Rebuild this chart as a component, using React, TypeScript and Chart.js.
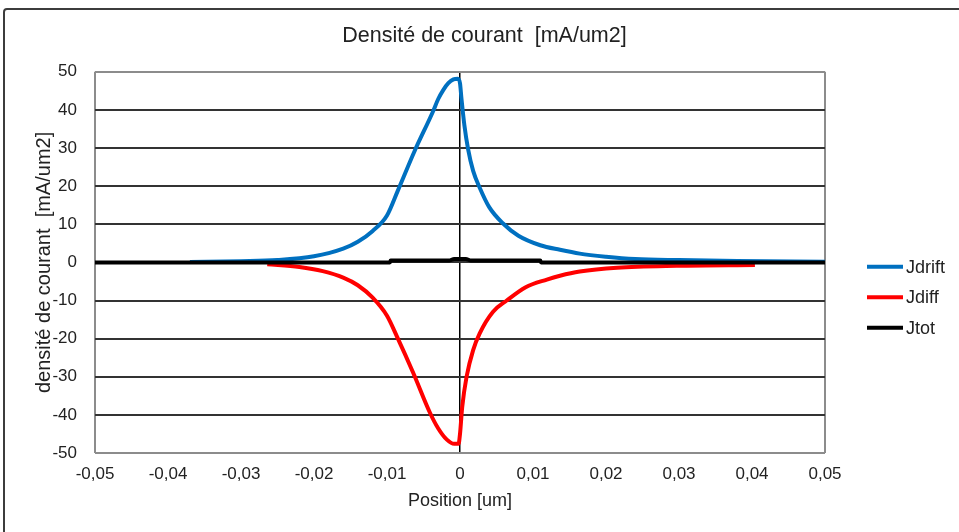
import React, { useEffect, useRef } from "react";
import { Chart, registerables } from "chart.js";

Chart.register(...registerables);

// ---- Data (positions in um, current densities in mA/um2) ----
const driftX = [-0.037, -0.03, -0.025, -0.02, -0.016, -0.014, -0.012, -0.01, -0.0085, -0.0062, -0.0037, -0.003, -0.0023, -0.0016, -0.0009, -0.0003, 0.0, 0.0002, 0.0006, 0.0011, 0.0018, 0.0027, 0.004, 0.0059, 0.008, 0.011, 0.0137, 0.0164, 0.02, 0.024, 0.03, 0.038, 0.05];
const driftY = [0.1, 0.3, 0.6, 1.6, 3.6, 5.4, 8.2, 12.3, 18.9, 29.3, 39.6, 42.8, 45.2, 47.0, 48.0, 48.2, 47.0, 43.0, 36.0, 29.8, 24.0, 19.6, 14.5, 10.2, 7.0, 4.5, 3.3, 2.3, 1.5, 0.9, 0.6, 0.35, 0.2];

const diffX = [-0.0264, -0.022, -0.0188, -0.016, -0.014, -0.012, -0.01, -0.0086, -0.0064, -0.0041, -0.003, -0.0018, -0.0008, -0.0002, 0.0, 0.0003, 0.0009, 0.0018, 0.0027, 0.0045, 0.0064, 0.009, 0.0119, 0.0137, 0.0164, 0.0215, 0.0297, 0.0404];
const diffY = [-0.5, -1.2, -2.3, -4.0, -6.0, -9.2, -14.0, -19.6, -29.0, -39.5, -43.5, -46.5, -47.6, -47.6, -45.0, -38.0, -30.0, -23.0, -18.6, -13.0, -10.0, -6.5, -4.5, -3.5, -2.4, -1.4, -0.9, -0.7];

const totX = [-0.05, -0.0096, -0.0095, -0.0015, -0.0008, 0.0008, 0.0015, 0.011, 0.0111, 0.05];
const totY = [0.0, 0.0, 0.5, 0.5, 0.9, 0.9, 0.5, 0.5, 0.0, 0.0];

const seriesLabels = ["Jdrift", "Jdiff", "Jtot"];
const seriesColors = ["#0070C0", "#FF0000", "#000000"];

const chartTitle = "Densité de courant  [mA/um2]";
const xAxisTitle = "Position [um]";
const yAxisTitle = "densité de courant  [mA/um2]";

const xMin = -0.05;
const xMax = 0.05;
const xStep = 0.01;
const yMin = -50;
const yMax = 50;
const yStep = 10;

const FONT = '"Liberation Sans", Arial, sans-serif';
const TEXT = "#222222";

const toPoints = (xs: number[], ys: number[]) => xs.map((x, i) => ({ x, y: ys[i] }));

const fmtX = (v: number) => {
  const r = Math.round(v * 100) / 100;
  if (r === 0) return "0";
  return r.toFixed(2).replace(".", ",");
};

const sideLegend = {
  id: "sideLegend",
  afterDraw(chart: any) {
    const { ctx, chartArea } = chart;
    ctx.save();
    ctx.font = `18px ${FONT}`;
    ctx.textBaseline = "middle";
    ctx.textAlign = "left";
    chart.data.datasets.forEach((ds: any, i: number) => {
      const y = chartArea.top + 195 + i * 30.5;
      const x0 = chartArea.right + 42;
      ctx.strokeStyle = ds.borderColor;
      ctx.lineWidth = 4;
      ctx.lineCap = "butt";
      ctx.beginPath();
      ctx.moveTo(x0, y);
      ctx.lineTo(x0 + 36, y);
      ctx.stroke();
      ctx.fillStyle = TEXT;
      ctx.fillText(ds.label, x0 + 39, y + 1);
    });
    ctx.restore();
  },
};

export default function App() {
  const canvasRef = useRef<HTMLCanvasElement | null>(null);

  useEffect(() => {
    const canvas = canvasRef.current;
    if (!canvas) return;
    const xsList = [driftX, diffX, totX];
    const ysList = [driftY, diffY, totY];
    const chart = new Chart(canvas, {
      type: "scatter",
      data: {
        datasets: seriesLabels.map((label, i) => ({
          label,
          data: toPoints(xsList[i], ysList[i]),
          showLine: true,
          borderColor: seriesColors[i],
          backgroundColor: seriesColors[i],
          borderWidth: 4,
          pointRadius: 0,
          pointHoverRadius: 0,
          cubicInterpolationMode: "monotone" as const,
          order: 3 - i,
          yAxisID: "y",
        })),
      },
      options: {
        responsive: false,
        animation: false,
        devicePixelRatio: 1,
        layout: { padding: { left: 10, top: 0, right: 0, bottom: 0 } },
        plugins: {
          legend: { display: false },
          tooltip: { enabled: false },
          title: {
            display: true,
            text: chartTitle,
            color: TEXT,
            font: { family: FONT, size: 21.5, weight: "normal" },
            padding: { top: 23, bottom: 23 },
          },
        },
        scales: {
          x: {
            type: "linear",
            min: xMin,
            max: xMax,
            afterFit: (scale: any) => {
              scale.height = 79;
            },
            ticks: {
              stepSize: xStep,
              color: TEXT,
              font: { family: FONT, size: 17 },
              padding: 11,
              maxRotation: 0,
              autoSkip: false,
              callback: (v: any) => fmtX(Number(v)),
            },
            grid: {
              drawTicks: false,
              color: (c: any) => {
                const v = c.tick ? c.tick.value : 1;
                if (Math.abs(v) < 1e-9) return "#000000";
                if (Math.abs(Math.abs(v) - 0.05) < 1e-9) return "#8c8c8c";
                return "rgba(0,0,0,0)";
              },
              lineWidth: (c: any) => {
                const v = c.tick ? c.tick.value : 1;
                if (Math.abs(v) < 1e-9) return 1.5;
                return 2;
              },
            },
            border: { display: false },
            title: {
              display: true,
              text: xAxisTitle,
              color: TEXT,
              font: { family: FONT, size: 18 },
              padding: { top: 0, bottom: 20 },
            },
          },
          y: {
            type: "linear",
            position: "left",
            min: yMin,
            max: yMax,
            afterFit: (scale: any) => {
              scale.width = 85;
            },
            ticks: {
              stepSize: yStep,
              color: TEXT,
              font: { family: FONT, size: 17 },
              padding: 18,
            },
            grid: {
              drawTicks: false,
              color: (c: any) => {
                const v = c.tick ? c.tick.value : 0;
                if (Math.abs(v) === 50) return "#8c8c8c";
                return "#333333";
              },
              lineWidth: 2,
            },
            border: { display: false },
            title: {
              display: true,
              text: yAxisTitle,
              color: TEXT,
              font: { family: FONT, size: 20 },
              padding: { top: 22, bottom: 0 },
            },
          },
          legendSpace: {
            type: "linear",
            position: "right",
            display: true,
            afterFit: (scale: any) => {
              scale.width = 134;
            },
            ticks: { display: false },
            grid: { display: false, drawTicks: false },
            border: { display: false },
            title: { display: false },
          },
        },
      },
      plugins: [sideLegend],
    });
    return () => chart.destroy();
  }, []);

  return (
    <div
      style={{
        position: "fixed",
        left: 0,
        top: 0,
        width: 959,
        height: 532,
        overflow: "hidden",
        background: "#ffffff",
      }}
    >
      <canvas ref={canvasRef} width={959} height={532} style={{ display: "block", width: 959, height: 532 }} />
      <div
        style={{
          position: "absolute",
          left: 3,
          top: 8,
          width: 1100,
          height: 700,
          border: "2px solid #3c3c3c",
          borderRadius: 4,
          boxSizing: "border-box",
          pointerEvents: "none",
        }}
      />
    </div>
  );
}
